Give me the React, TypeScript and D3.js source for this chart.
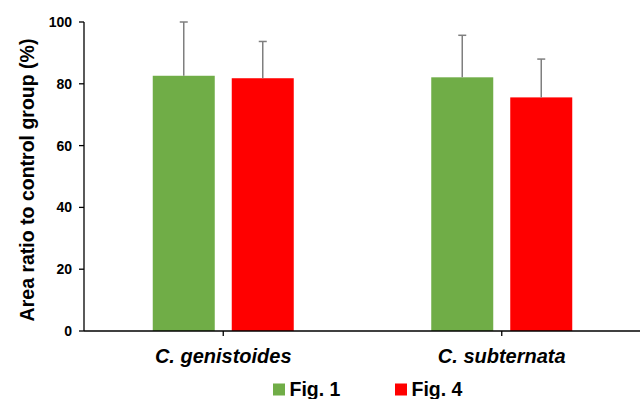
import React from "react";
import * as d3 from "d3";

const categories = ["C. genistoides", "C. subternata"];
const seriesNames = ["Fig. 1", "Fig. 4"];
const seriesColors = ["#70AD47", "#FF0000"];
const fig1Values = [82.6, 82.1];
const fig4Values = [81.8, 75.6];
const fig1Errors = [17.4, 13.6];
const fig4Errors = [11.9, 12.4];
const yTicks = [0, 20, 40, 60, 80, 100];

export default function App() {
  const W = 640, H = 399;
  const axisX = 84;
  const y = d3.scaleLinear().domain([0, 100]).range([331, 22]);
  const x0 = d3.scaleBand<string>().domain(categories).range([84, 641]).padding(0);
  const x1 = d3.scaleBand<string>().domain(seriesNames).range([-70.5, 70.5]).paddingInner(17 / 79);
  const values = [fig1Values, fig4Values];
  const errors = [fig1Errors, fig4Errors];
  const font = "Arial, 'Liberation Sans', sans-serif";

  return (
    <svg width={W} height={H} style={{ position: "absolute", left: 0, top: 0, background: "#fff" }} fontFamily={font}>
      {/* bars */}
      {categories.map((c, ci) =>
        seriesNames.map((s, si) => {
          const cx = x0(c)! + x0.bandwidth() / 2;
          const bx = cx + x1(s)!;
          const v = values[si][ci];
          return (
            <rect key={c + s} x={bx} y={y(v)} width={x1.bandwidth()} height={y(0) - y(v)} fill={seriesColors[si]} />
          );
        })
      )}
      {/* error bars */}
      {categories.map((c, ci) =>
        seriesNames.map((s, si) => {
          const cx = x0(c)! + x0.bandwidth() / 2 + x1(s)! + x1.bandwidth() / 2;
          const v = values[si][ci];
          const e = errors[si][ci];
          return (
            <g key={"e" + c + s} stroke="#7F7F7F" strokeWidth={1.5}>
              <line x1={cx} x2={cx} y1={y(v)} y2={y(v + e)} />
              <line x1={cx - 4} x2={cx + 4} y1={y(v + e)} y2={y(v + e)} />
            </g>
          );
        })
      )}
      {/* y axis */}
      <line x1={axisX} x2={axisX} y1={y(100)} y2={y(0)} stroke="#000" strokeWidth={1.3} />
      {yTicks.map((t) => (
        <g key={t}>
          <line x1={axisX - 5} x2={axisX} y1={y(t)} y2={y(t)} stroke="#000" strokeWidth={1.3} />
          <text x={72} y={y(t)} dy="0.35em" textAnchor="end" fontSize={14} fontWeight="bold" fill="#000">
            {t}
          </text>
        </g>
      ))}
      {/* x axis */}
      <line x1={axisX} x2={640} y1={y(0)} y2={y(0)} stroke="#000" strokeWidth={1.3} />
      {categories.map((c) => {
        const cx = x0(c)! + x0.bandwidth() / 2;
        return (
          <g key={"xt" + c}>
            <line x1={cx} x2={cx} y1={y(0)} y2={y(0) + 5} stroke="#000" strokeWidth={1.3} />
            <text x={cx} y={363} textAnchor="middle" fontSize={20} fontWeight="bold" fontStyle="italic" fill="#000">
              {c}
            </text>
          </g>
        );
      })}
      {/* y title */}
      <text transform={`translate(34,180) rotate(-90)`} textAnchor="middle" fontSize={19.5} fontWeight="bold" fill="#000">
        Area ratio to control group (%)
      </text>
      {/* legend */}
      {seriesNames.map((s, si) => {
        const lx = [273, 395][si];
        return (
          <g key={"l" + s}>
            <rect x={lx} y={383.5} width={12} height={12} fill={seriesColors[si]} />
            <text x={lx + 16.5} y={396} fontSize={19.5} fontWeight="bold" fill="#000">
              {s}
            </text>
          </g>
        );
      })}
    </svg>
  );
}
